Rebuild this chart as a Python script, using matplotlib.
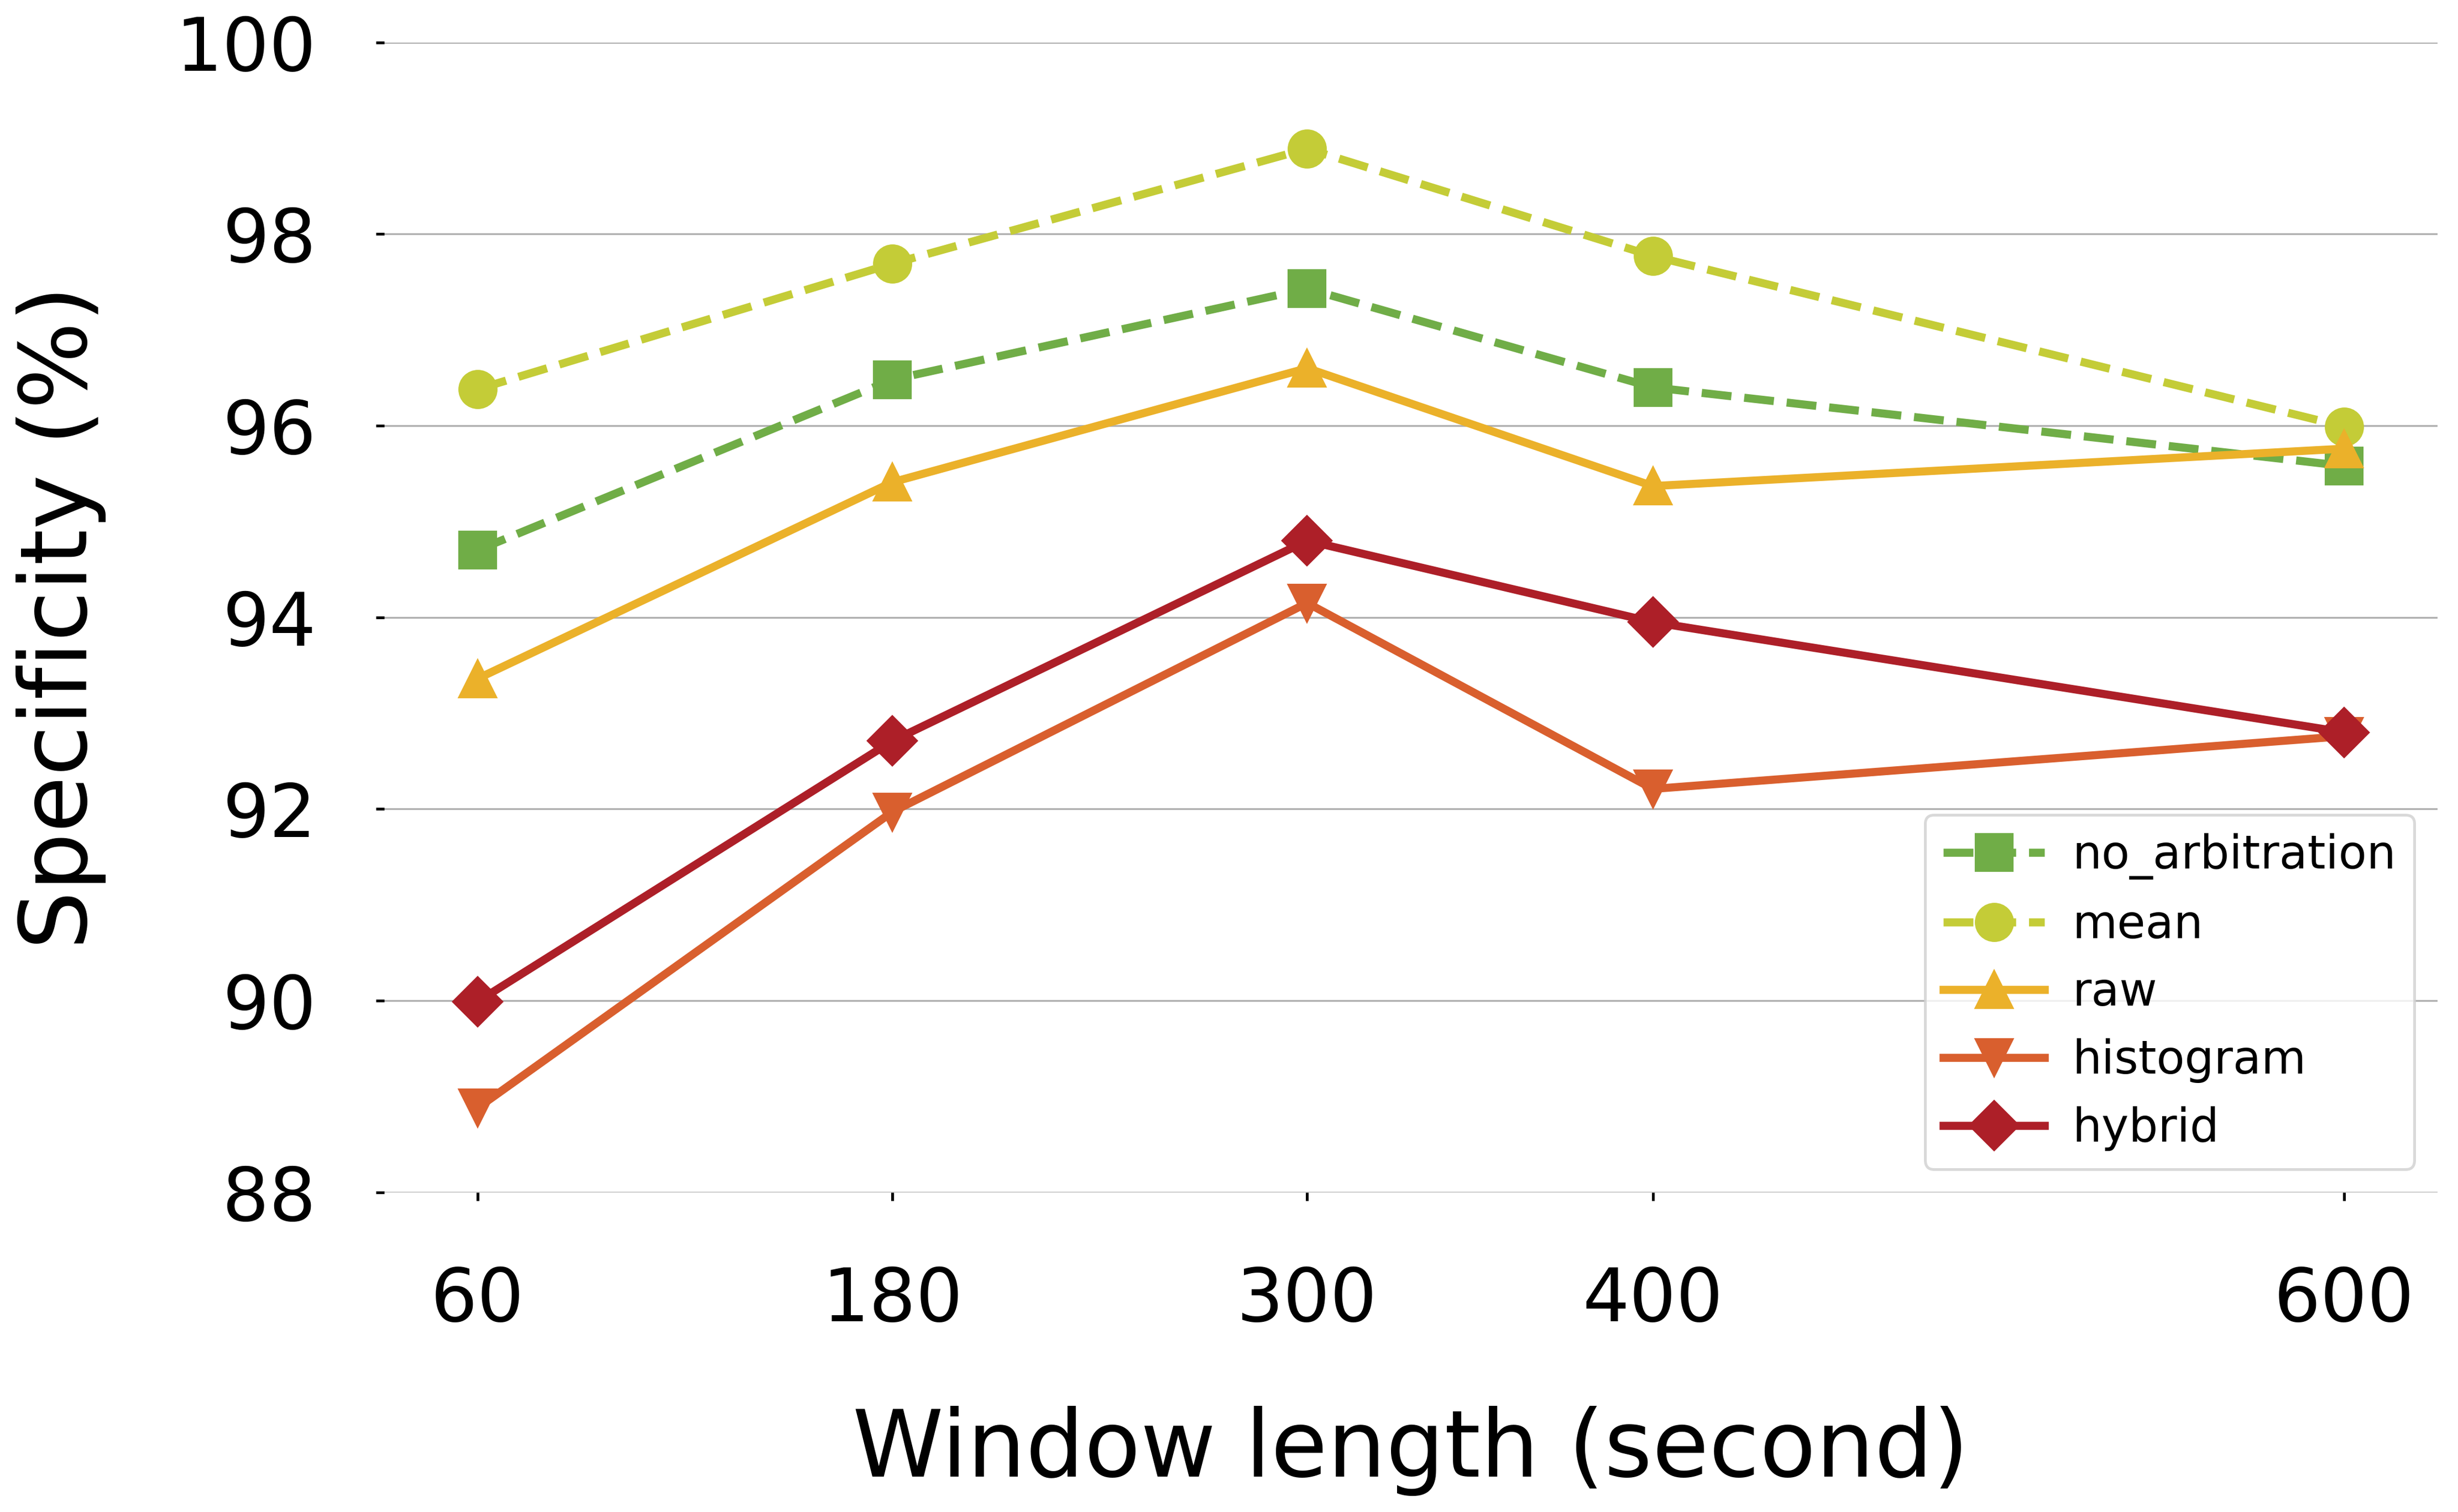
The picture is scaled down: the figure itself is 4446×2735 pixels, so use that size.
import matplotlib
matplotlib.use("Agg")
import matplotlib.pyplot as plt

window = [60, 180, 300, 400, 600]
no_arbitration = [94.70, 96.48, 97.43, 96.40, 95.58]
mean = [96.38, 97.69, 98.89, 97.77, 95.99]
raw = [93.36, 95.41, 96.60, 95.37, 95.76]
histogram = [88.88, 91.97, 94.15, 92.21, 92.76]
hybrid = [89.99, 92.71, 94.80, 93.95, 92.80]
yticks = [88, 90, 92, 94, 96, 98, 100]

series = [
    ("no_arbitration", no_arbitration, "#70AD47", "s", "--", 16),
    ("mean", mean, "#C4CC37", "o", "--", 16),
    ("raw", raw, "#EBB12A", "^", "-", 16),
    ("histogram", histogram, "#D95F2E", "v", "-", 16),
    ("hybrid", hybrid, "#AD1F28", "D", "-", 15),
]

fig = plt.figure(figsize=(14.82, 9.1167), dpi=300)
ax = fig.add_axes([0.1563, 0.2114, 0.9917 - 0.1563, 0.972 - 0.2114])

for name, vals, col, mk, ls, ms in series:
    ax.plot(window, vals, color=col, marker=mk, linestyle=ls, linewidth=3.5,
            markersize=ms, label=name)

ax.set_ylim(88, 100)
ax.set_yticks(yticks)
ax.set_xticks(window)
ax.set_xlim(33, 627)
for s in ax.spines.values():
    s.set_visible(False)
ax.yaxis.grid(True, color="#b0b0b0", linewidth=0.8)
ax.set_axisbelow(True)
ax.tick_params(axis="both", labelsize=32, length=3.5, width=1.2, color="black")
ax.tick_params(axis="x", pad=28)
ax.tick_params(axis="y", pad=26)
ax.set_xlabel("Window length (second)", fontsize=40, labelpad=30)
ax.set_ylabel("Specificity (%)", fontsize=40, labelpad=30)

leg = ax.legend(loc="lower right", fontsize=20, frameon=True, borderaxespad=0.5,
                handlelength=2.2, handletextpad=0.6, labelspacing=0.5,
                framealpha=0.8)
leg.get_frame().set_edgecolor("#d0d0d0")
leg.get_frame().set_linewidth(1.2)

fig.savefig("out.png", dpi=300)
